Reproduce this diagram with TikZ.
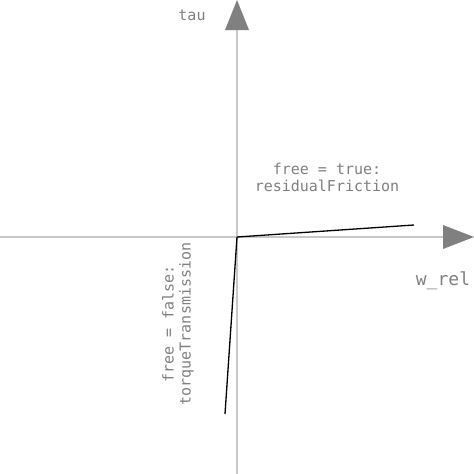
\documentclass[tikz,border=0pt]{standalone}
\usepackage{fontspec}
\setmonofont{DejaVu Sans Mono}
\definecolor{axisgray}{HTML}{C8C8C8}
\definecolor{tipgray}{HTML}{808080}
\definecolor{labelgray}{HTML}{808080}
\begin{document}
\begin{tikzpicture}[x=1pt,y=-1pt,
    axis/.style={draw=axisgray, line width=1.5pt},
    tip/.style={fill=tipgray, draw=none},
    curve/.style={draw=black, line width=1.3pt},
    lbl/.style={font=\ttfamily\fontsize{15}{17}\selectfont, text=labelgray, align=center, inner sep=0pt}]
            \useasboundingbox (0,0) rectangle (474,474);

            %origine e fine degli assi
            \coordinate (O) at (237,237);
            \coordinate (xstart) at (0,237);
            \coordinate (xend) at (443,237);
            \coordinate (ystart) at (237,474);
            \coordinate (yend) at (237,30);

            %assi
            \draw[axis] (xstart) -- (xend);
            \draw[axis] (ystart) -- (yend);

            %punte
            \fill[tip] (443,225) -- (474,237) -- (443,249) -- cycle;
            \fill[tip] (225,30) -- (237,0) -- (249,30) -- cycle;

            %estremi delle caratteristiche
            \coordinate (free) at (414,225);
            \coordinate (locked) at (225,414);

            %caratteristiche
            \draw[curve] (O) -- (free);
            \draw[curve] (O) -- (locked);

            %etichette
            \node[lbl] (tau) at (192,15) {tau};
            \node[lbl, font=\ttfamily\fontsize{18}{20}\selectfont] (wrel) at (443,281) {w\_rel};
            \node[lbl] (true) at (327,177) {free = true:\\residualFriction};
            \node[lbl, rotate=90] (false) at (178,324) {free = false:\\torqueTransmission};

        \end{tikzpicture}
\end{document}
